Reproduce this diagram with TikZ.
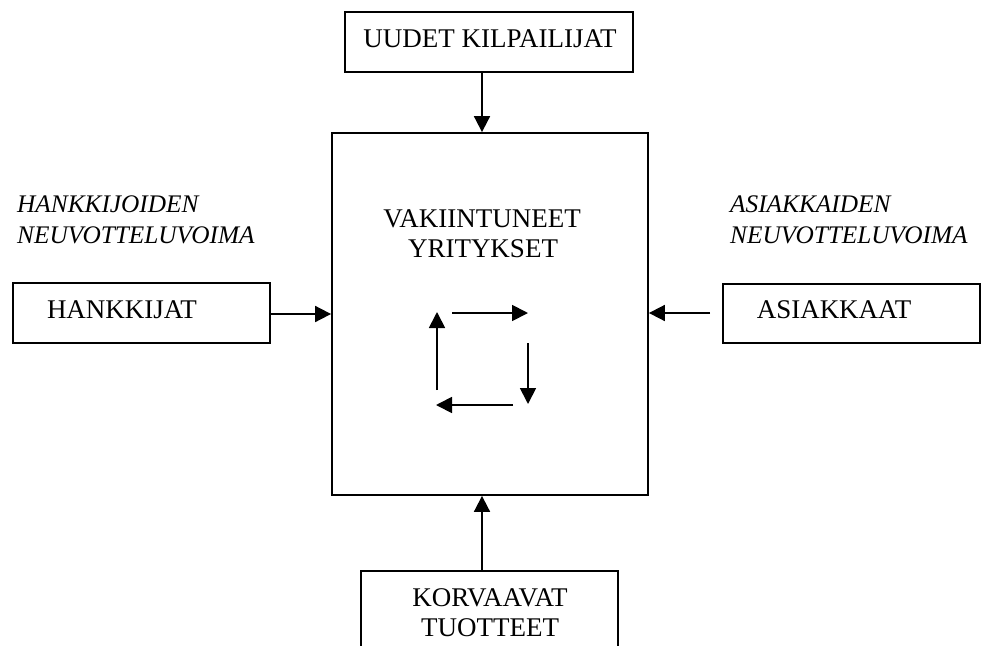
\documentclass[tikz,border=0pt]{standalone}
\usepackage{fontspec}
\setmainfont{Liberation Serif}
\usetikzlibrary{arrows.meta}
\begin{document}
\begin{tikzpicture}[x=1pt,y=-1pt,
  box/.style={draw,line width=1.8pt,rectangle,inner sep=0pt},
  lbl/.style={font=\fontsize{27}{30}\selectfont,inner sep=0pt,anchor=base},
  ital/.style={font=\fontsize{25.3}{30}\selectfont\itshape,inner sep=0pt,anchor=base west},
  arr/.style={line width=1.8pt,-{Triangle[length=16pt,width=16pt]}}]
\clip (0,0) rectangle (981,645);
\fill[white] (0,0) rectangle (981,645);
% boxes
\node[box,minimum width=288pt,minimum height=60pt] (uudet) at (489,42) {};
\node[box,minimum width=316pt,minimum height=362pt] (keski) at (490,314) {};
\node[box,minimum width=257pt,minimum height=60pt] (hank) at (141.5,313) {};
\node[box,minimum width=257pt,minimum height=59pt] (asi) at (851.5,313.5) {};
\node[box,minimum width=257pt,minimum height=90pt] (korv) at (489.5,616) {};
% texts
\node[lbl] (t1) at (490,47) {UUDET KILPAILIJAT};
\node[lbl] (t2) at (482,227) {VAKIINTUNEET};
\node[lbl] (t3) at (483,257) {YRITYKSET};
\node[lbl] (t4) at (122,318) {HANKKIJAT};
\node[lbl] (t5) at (834,318) {ASIAKKAAT};
\node[lbl] (t6) at (490,606) {KORVAAVAT};
\node[lbl] (t7) at (490,636) {TUOTTEET};
\node[ital] (i1) at (17,212) {HANKKIJOIDEN};
\node[ital] (i2) at (17,243) {NEUVOTTELUVOIMA};
\node[ital] (i3) at (730,212) {ASIAKKAIDEN};
\node[ital] (i4) at (730,243) {NEUVOTTELUVOIMA};
% connectors
\coordinate (ax) at (482,0);
\draw[arr] (uudet.south -| ax) -- (keski.north -| ax);
\draw[arr] (korv.north -| ax) -- (keski.south -| ax);
\coordinate (ay) at (0,314);
\draw[arr] (hank.east |- ay) -- (keski.west |- ay);
\coordinate (as) at (710,313);
\draw[arr] (as) -- (keski.east |- as);
% cycle
\coordinate (c1) at (452,313);
\coordinate (c2) at (528,313);
\coordinate (c3) at (528,343);
\coordinate (c4) at (528,404);
\coordinate (c5) at (513,405);
\coordinate (c6) at (436,405);
\coordinate (c7) at (437,390);
\coordinate (c8) at (437,312);
\draw[arr] (c1) -- (c2);
\draw[arr] (c3) -- (c4);
\draw[arr] (c5) -- (c6);
\draw[arr] (c7) -- (c8);
\end{tikzpicture}
\end{document}
